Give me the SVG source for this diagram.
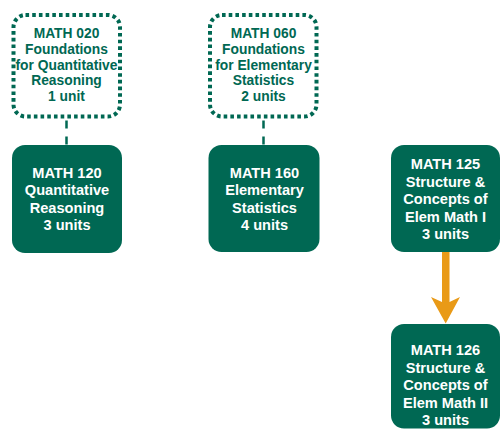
<svg xmlns="http://www.w3.org/2000/svg" width="501" height="430" viewBox="0 0 501 430">
<style>
.dot{fill:#fff;stroke:#006853;stroke-width:4;stroke-dasharray:3.6 3.1}
.solid{fill:#006853}
.dt{font-family:"Liberation Sans",Arial,sans-serif;font-weight:bold;font-size:13.8px;fill:#006853;text-anchor:middle}
.st{font-family:"Liberation Sans",Arial,sans-serif;font-weight:bold;font-size:14.6px;fill:#fff;text-anchor:middle}
.dash{stroke:#006853;stroke-width:2.5;stroke-dasharray:8 8;fill:none}
</style>
<rect width="501" height="430" fill="#fff"/>
<g id="connectors">
<line class="dash" x1="66.5" y1="120.5" x2="66.5" y2="145"/>
<line class="dash" x1="263.5" y1="120.5" x2="263.5" y2="145"/>
<path d="M442 252 H449.5 V302 L460 297 L445.7 323.5 L431 297 L442 302 Z" fill="#E99A17"/>
</g>
<g id="math020">
<rect class="dot" x="13.5" y="15" width="106.5" height="101.5" rx="12"/>
<text class="dt" x="66.5"><tspan x="66.5" y="38.3">MATH 020</tspan><tspan x="66.5" y="54">Foundations</tspan><tspan x="66.5" y="69.5">for Quantitative</tspan><tspan x="66.5" y="85.2">Reasoning</tspan><tspan x="66.5" y="101">1 unit</tspan></text>
</g>
<g id="math060">
<rect class="dot" x="210" y="15" width="106.5" height="101.5" rx="12"/>
<text class="dt" x="263.5"><tspan x="263.5" y="38.3">MATH 060</tspan><tspan x="263.5" y="54">Foundations</tspan><tspan x="263.5" y="69.5">for Elementary</tspan><tspan x="263.5" y="85.2">Statistics</tspan><tspan x="263.5" y="101">2 units</tspan></text>
</g>
<g id="math120">
<rect class="solid" x="12" y="145" width="110" height="108" rx="13"/>
<text class="st"><tspan x="67" y="177.5">MATH 120</tspan><tspan x="67" y="195.1">Quantitative</tspan><tspan x="67" y="212.7">Reasoning</tspan><tspan x="67" y="230.3">3 units</tspan></text>
</g>
<g id="math160">
<rect class="solid" x="208.5" y="145" width="111" height="107" rx="13"/>
<text class="st"><tspan x="264.5" y="177.5">MATH 160</tspan><tspan x="264.5" y="195.1">Elementary</tspan><tspan x="264.5" y="212.7">Statistics</tspan><tspan x="264.5" y="230.3">4 units</tspan></text>
</g>
<g id="math125">
<rect class="solid" x="391" y="145" width="109" height="107" rx="13"/>
<text class="st"><tspan x="445.5" y="169">MATH 125</tspan><tspan x="445.5" y="186.6">Structure &amp;</tspan><tspan x="445.5" y="204.2">Concepts of</tspan><tspan x="445.5" y="221.8">Elem Math I</tspan><tspan x="445.5" y="239.4">3 units</tspan></text>
</g>
<g id="math126">
<rect class="solid" x="391" y="324" width="109" height="104.5" rx="13"/>
<text class="st"><tspan x="445.5" y="355">MATH 126</tspan><tspan x="445.5" y="372.6">Structure &amp;</tspan><tspan x="445.5" y="390.2">Concepts of</tspan><tspan x="445.5" y="407.8">Elem Math II</tspan><tspan x="445.5" y="425.4">3 units</tspan></text>
</g>
</svg>
